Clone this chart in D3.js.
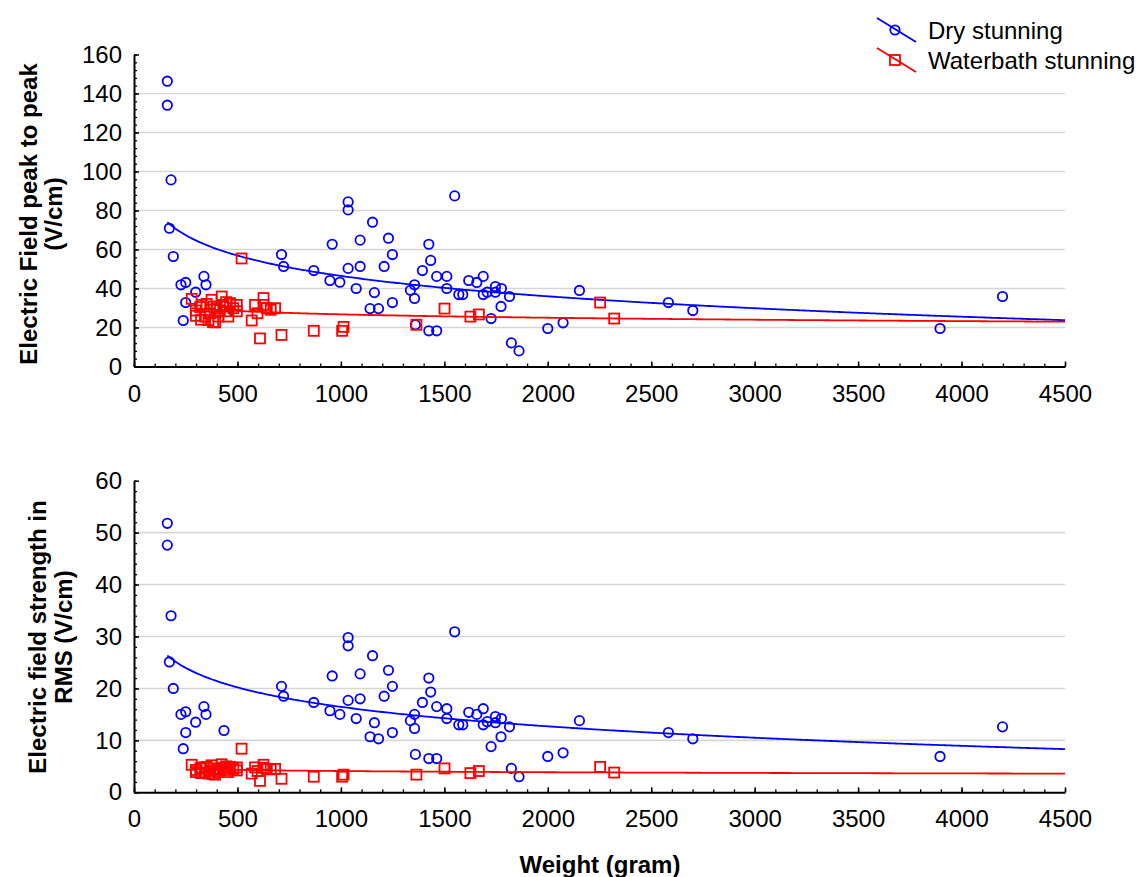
<!DOCTYPE html>
<html>
<head>
<meta charset="utf-8">
<script src="https://cdn.jsdelivr.net/npm/d3@7"></script>
<style>
  html, body { margin: 0; padding: 0; background: #fff; }
  svg { display: block; font-family: "Liberation Sans", Arial, sans-serif; }
</style>
</head>
<body>
<svg id="chart" width="1142" height="877"></svg>
<script>
// ---------------- data ----------------
const seriesNames = ["Dry stunning", "Waterbath stunning"];

const dryWeight = [161, 161, 179, 171, 190, 227, 250, 250, 238, 298, 338, 348, 435,
  713, 723, 869, 958, 947, 995, 1035, 1035, 1035, 1074, 1093, 1093, 1153, 1162, 1141, 1182,
  1209, 1230, 1249, 1249, 1336, 1356, 1356, 1360, 1394, 1425, 1434, 1425, 1463, 1463, 1512,
  1512, 1550, 1570, 1589, 1618, 1657, 1688, 1688, 1707, 1726, 1747, 1747, 1776, 1774, 1815,
  1824, 1861, 2000, 2074, 2153, 2583, 2701, 3896, 4198];
const dryPeak = [146.3, 134, 95.7, 70.9, 56.4, 41.9, 43.1, 32.8, 23.6, 38.1, 46.2, 41.9, 31,
  57.4, 51.3, 49.2, 62.7, 44.1, 43.2, 84.4, 80.3, 50.3, 40, 64.8, 51.3, 74, 37.9, 29.7, 29.7,
  51.3, 65.8, 57.4, 32.8, 39.1, 41.9, 34.9, 21.4, 49.2, 62.7, 54.4, 18.3, 18.3, 46.2, 46.2,
  40, 87.5, 36.9, 36.9, 44.1, 43.1, 46.2, 36.9, 38.1, 24.6, 41, 38.1, 40, 30.8, 35.9,
  12.1, 8, 19.5, 22.4, 39, 32.8, 28.7, 19.5, 35.9];
const dryRms = [51.8, 47.6, 34.0, 25.1, 20.0, 15.0, 15.5, 11.5, 8.4, 13.5, 16.5, 15.0, 11.9,
  20.4, 18.5, 17.3, 22.4, 15.7, 15.0, 29.8, 28.2, 17.7, 14.2, 22.8, 18.0, 26.3, 13.4, 10.7, 10.3,
  18.5, 23.5, 20.4, 11.5, 13.8, 15.0, 12.3, 7.3, 17.3, 22.0, 19.3, 6.5, 6.5, 16.5, 16.1,
  14.2, 30.9, 13.0, 13.0, 15.4, 15.0, 16.1, 13.0, 13.6, 8.8, 14.6, 13.4, 14.2, 10.7, 12.6,
  4.6, 3.0, 6.9, 7.6, 13.8, 11.5, 10.3, 6.9, 12.6];

const waterWeight = [279, 299, 299, 320, 324, 327, 343, 351, 360, 367, 375, 382, 385, 392, 400,
  408, 415, 424, 432, 440, 445, 456, 464, 480, 497, 497, 520, 569, 585, 597, 609, 626, 626,
  642, 661, 682, 713, 869, 1006, 1013, 1365, 1501, 1626, 1667, 2253, 2321];
const waterPeak = [34.7, 28.7, 26.0, 30.5, 24.0, 31.6, 25.6, 32.1, 23.8, 27.3, 34.2, 22.8, 30.8, 22.6, 29.9,
  25.6, 28.8, 35.9, 31.6, 28.3, 33.0, 25.6, 32.5, 29.9, 31.6, 28.3, 55.4, 23.6, 31.6, 27.3, 14.4, 35.1, 31.6,
  29.9, 29.1, 29.9, 16.2, 18.3, 18.3, 20.3, 21.4, 29.7, 25.6, 26.7, 32.8, 24.6];
const waterRms = [5.3, 4.3, 3.9, 4.6, 3.7, 4.8, 3.8, 4.9, 3.6, 4.1, 5.2, 3.5, 4.6, 3.4, 4.5,
  3.9, 4.3, 5.4, 4.7, 4.3, 5.0, 3.9, 4.9, 4.5, 4.8, 4.2, 8.4, 3.6, 4.8, 4.1, 2.2, 5.3, 4.7,
  4.5, 4.4, 4.5, 2.6, 3.0, 3.0, 3.4, 3.4, 4.6, 3.7, 4.1, 4.9, 3.8];

const xTicks = [0, 500, 1000, 1500, 2000, 2500, 3000, 3500, 4000, 4500];
const peakTicks = [0, 20, 40, 60, 80, 100, 120, 140, 160];
const rmsTicks = [0, 10, 20, 30, 40, 50, 60];

// ---------------- drawing ----------------
const svg = d3.select("#chart");
const FONT = 24;
const blue = "#0000ff", red = "#ff0000";

const x = d3.scaleLinear().domain([0, 4500]).range([134, 1065]);

function logFit(xs, ys) {
  const lx = xs.map(Math.log);
  const mx = d3.mean(lx), my = d3.mean(ys);
  let sxy = 0, sxx = 0;
  lx.forEach((v, i) => { sxy += (v - mx) * (ys[i] - my); sxx += (v - mx) * (v - mx); });
  const b = sxy / sxx, a = my - b * mx;
  return v => a + b * Math.log(v);
}

function panel(opts) {
  const { y, ticks, minorStep, dry, water, title } = opts;
  const g = svg.append("g");
  const [x0, x1] = x.range();

  // gridlines
  g.append("g").selectAll("line")
    .data(ticks.filter((t, i) => i > 0 && i < ticks.length - 1))
    .join("line")
    .attr("x1", x0).attr("x2", x1)
    .attr("y1", d => y(d)).attr("y2", d => y(d))
    .attr("stroke", "#d6d6d6").attr("stroke-width", 1.6);

  // minor ticks
  const yMinor = d3.range(0, ticks[ticks.length - 1] + 1e-9, minorStep);
  const xMinor = d3.range(0, 4500 + 1e-9, 100);
  g.append("g").attr("transform", `translate(0,${y(0)})`)
    .call(d3.axisBottom(x).tickValues(xMinor).tickSize(-3).tickSizeOuter(0).tickFormat(""))
    .call(s => s.select(".domain").remove())
    .selectAll("line").attr("stroke", "#000").attr("stroke-width", 1.3);
  g.append("g").attr("transform", `translate(${x0},0)`)
    .call(d3.axisLeft(y).tickValues(yMinor).tickSize(-3).tickSizeOuter(0).tickFormat(""))
    .call(s => s.select(".domain").remove())
    .selectAll("line").attr("stroke", "#000").attr("stroke-width", 1.3);

  // major axes
  const xa = g.append("g").attr("transform", `translate(0,${y(0)})`)
    .call(d3.axisBottom(x).tickValues(xTicks).tickFormat(d3.format("d"))
      .tickSize(-5).tickSizeOuter(0).tickPadding(18));
  const ya = g.append("g").attr("transform", `translate(${x0},0)`)
    .call(d3.axisLeft(y).tickValues(ticks).tickFormat(d3.format("d"))
      .tickSize(-5).tickSizeOuter(0).tickPadding(12));
  [xa, ya].forEach(a => {
    a.select(".domain").attr("stroke", "#000").attr("stroke-width", 2);
    a.selectAll(".tick line").attr("stroke", "#000").attr("stroke-width", 1.5);
    a.selectAll(".tick text").attr("fill", "#000").style("font-size", FONT + "px")
      .style("font-family", '"Liberation Sans", Arial, sans-serif');
  });

  // dry points (circles)
  g.append("g").selectAll("circle")
    .data(dry.w.map((w, i) => [w, dry.v[i]]))
    .join("circle")
    .attr("cx", d => x(d[0])).attr("cy", d => y(d[1])).attr("r", 4.7)
    .attr("fill", "none").attr("stroke", blue).attr("stroke-width", 1.8);

  // dry fit
  const fDry = logFit(dry.w, dry.v);
  const xsDry = d3.range(d3.min(dry.w), 4500, 10).concat([4500]);
  g.append("path")
    .attr("d", d3.line().x(d => x(d)).y(d => y(fDry(d)))(xsDry))
    .attr("fill", "none").attr("stroke", blue).attr("stroke-width", 1.8);

  // water points (squares)
  const s = 10;
  g.append("g").selectAll("rect")
    .data(water.w.map((w, i) => [w, water.v[i]]))
    .join("rect")
    .attr("x", d => x(d[0]) - s / 2).attr("y", d => y(d[1]) - s / 2)
    .attr("width", s).attr("height", s)
    .attr("fill", "none").attr("stroke", red).attr("stroke-width", 1.8);

  const fW = logFit(water.w, water.v);
  const xsW = d3.range(d3.min(water.w), 4500, 10).concat([4500]);
  g.append("path")
    .attr("d", d3.line().x(d => x(d)).y(d => y(fW(d)))(xsW))
    .attr("fill", "none").attr("stroke", red).attr("stroke-width", 1.8);

  // y title
  const t = g.append("text")
    .attr("transform", `translate(0,${title.cy}) rotate(-90)`)
    .attr("text-anchor", "middle")
    .style("font-size", FONT + "px").style("font-weight", "bold").attr("fill", "#000");
  title.lines.forEach((ln, i) => {
    t.append("tspan").attr("x", 0).attr("y", title.bx[i]).text(ln);
  });
}

panel({
  y: d3.scaleLinear().domain([0, 160]).range([366.5, 54.5]),
  ticks: peakTicks, minorStep: 4,
  dry: { w: dryWeight, v: dryPeak },
  water: { w: waterWeight, v: waterPeak },
  title: { cy: 214, lines: ["Electric Field peak to peak", "(V/cm)"], bx: [37, 62] }
});

panel({
  y: d3.scaleLinear().domain([0, 60]).range([792.3, 480.7]),
  ticks: rmsTicks, minorStep: 2,
  dry: { w: dryWeight, v: dryRms },
  water: { w: waterWeight, v: waterRms },
  title: { cy: 637, lines: ["Electric field strength in", "RMS (V/cm)"], bx: [46, 72] }
});

// x title
svg.append("text")
  .attr("x", 600).attr("y", 873)
  .attr("text-anchor", "middle")
  .style("font-size", FONT + "px").style("font-weight", "bold").attr("fill", "#000")
  .text("Weight (gram)");

// legend
const legend = svg.append("g");
const legendRows = [
  { name: seriesNames[0], color: blue, shape: "circle", cy: 30 },
  { name: seriesNames[1], color: red, shape: "square", cy: 60 }
];
legendRows.forEach(r => {
  legend.append("line")
    .attr("x1", 877).attr("y1", r.cy - 12).attr("x2", 916).attr("y2", r.cy + 12)
    .attr("stroke", r.color).attr("stroke-width", 1.8);
  if (r.shape === "circle") {
    legend.append("circle").attr("cx", 895).attr("cy", r.cy).attr("r", 4.7)
      .attr("fill", "none").attr("stroke", r.color).attr("stroke-width", 1.8);
  } else {
    legend.append("rect").attr("x", 890).attr("y", r.cy - 5).attr("width", 10).attr("height", 10)
      .attr("fill", "none").attr("stroke", r.color).attr("stroke-width", 1.8);
  }
  legend.append("text").attr("x", 928).attr("y", r.cy + 9)
    .style("font-size", FONT + "px").attr("fill", "#000").text(r.name);
});
</script>
</body>
</html>
